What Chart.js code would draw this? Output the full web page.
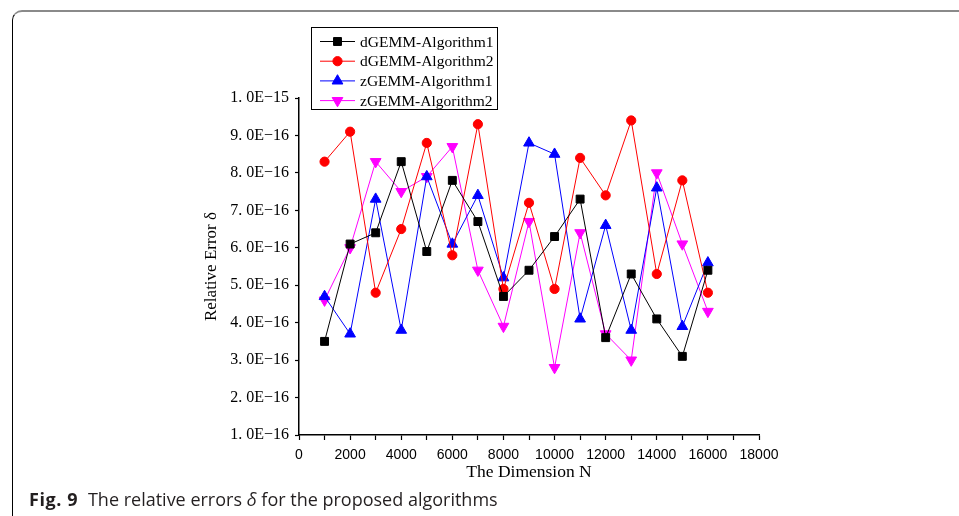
<!DOCTYPE html>
<html>
<head>
<meta charset="utf-8">
<script src="https://cdn.jsdelivr.net/npm/chart.js@4"></script>
<style>
    html, body { margin: 0; padding: 0; background: #fff; }
    body { width: 959px; height: 516px; position: relative; overflow: hidden; }
    #frame {
        position: absolute; left: 12px; top: 10px; width: 1000px; height: 600px;
        border-top: 2px solid #8a8a8a; border-left: 1.5px solid #000;
        border-top-left-radius: 10px;
    }
    #chart { position: absolute; left: 0; top: 0; }
    #caption {
        position: absolute; left: 29px; top: 487px;
        font-family: "Open Sans", sans-serif; font-size: 18px; color: #231f20;
        white-space: nowrap;
    }
    #caption b { margin-right: 5px; letter-spacing: 0.6px; }
</style>
</head>
<body>
<div id="frame"></div>
<canvas id="chart" width="959" height="516"></canvas>
<div id="caption"><b>Fig. 9</b> The relative errors <i>δ</i> for the proposed algorithms</div>

<script>
// values
const dimensions = [1000, 2000, 3000, 4000, 5000, 6000, 7000, 8000, 9000, 10000, 11000, 12000, 13000, 14000, 15000, 16000];

const dgemmAlg1 = [3.5e-16, 6.1e-16, 6.4e-16, 8.3e-16, 5.9e-16, 7.8e-16, 6.7e-16, 4.7e-16, 5.4e-16, 6.3e-16, 7.3e-16, 3.6e-16, 5.3e-16, 4.1e-16, 3.1e-16, 5.4e-16];
const dgemmAlg2 = [8.3e-16, 9.1e-16, 4.8e-16, 6.5e-16, 8.8e-16, 5.8e-16, 9.3e-16, 4.9e-16, 7.2e-16, 4.9e-16, 8.4e-16, 7.4e-16, 9.4e-16, 5.3e-16, 7.8e-16, 4.8e-16];
const zgemmAlg1 = [4.7e-16, 3.7e-16, 7.3e-16, 3.8e-16, 7.9e-16, 6.1e-16, 7.4e-16, 5.2e-16, 8.8e-16, 8.5e-16, 4.1e-16, 6.6e-16, 3.8e-16, 7.6e-16, 3.9e-16, 5.6e-16];
const zgemmAlg2 = [4.6e-16, 6.0e-16, 8.3e-16, 7.5e-16, 7.9e-16, 8.7e-16, 5.4e-16, 3.9e-16, 6.7e-16, 2.8e-16, 6.4e-16, 3.7e-16, 3.0e-16, 8.0e-16, 6.1e-16, 4.3e-16];

const yTickValues = [1e-16, 2e-16, 3e-16, 4e-16, 5e-16, 6e-16, 7e-16, 8e-16, 9e-16, 1e-15];
const yTickLabels = ['1. 0E\u221216', '2. 0E\u221216', '3. 0E\u221216', '4. 0E\u221216', '5. 0E\u221216',
                     '6. 0E\u221216', '7. 0E\u221216', '8. 0E\u221216', '9. 0E\u221216', '1. 0E\u221215'];

function toPoints(values) {
    return values.map((v, i) => ({ x: dimensions[i], y: v }));
}

function makeSeries(label, values, color, style, radius, rotation) {
    return {
        label: label,
        data: toPoints(values),
        borderColor: color,
        backgroundColor: color,
        borderWidth: 1,
        pointStyle: style,
        pointRadius: radius,
        pointRotation: rotation || 0,
        pointBorderWidth: 1,
        pointBorderColor: color,
        pointBackgroundColor: color,
        tension: 0
    };
}

// legend box drawn inside the plot, top-left
const boxLegend = {
    id: 'boxLegend',
    afterDraw(chart) {
        const ctx = chart.ctx;
        ctx.save();
        ctx.fillStyle = '#fff';
        ctx.fillRect(311, 27, 186, 82);
        ctx.strokeStyle = '#000';
        ctx.lineWidth = 1;
        ctx.strokeRect(311.5, 27.5, 186, 82);
        chart.data.datasets.forEach((ds, i) => {
            const y = 41.5 + i * 19.7;
            ctx.strokeStyle = ds.borderColor;
            ctx.fillStyle = ds.borderColor;
            ctx.lineWidth = 1;
            ctx.beginPath();
            ctx.moveTo(320, y);
            ctx.lineTo(355, y);
            ctx.stroke();
            Chart.helpers.drawPoint(ctx, {
                pointStyle: ds.pointStyle,
                radius: ds.pointRadius,
                rotation: ds.pointRotation,
                borderWidth: 1
            }, 337.5, y);
            ctx.fillStyle = '#000';
            ctx.font = '15.5px "Liberation Serif", serif';
            ctx.textBaseline = 'middle';
            ctx.fillText(ds.label, 360, y + 1);
        });
        ctx.restore();
    }
};

document.addEventListener('DOMContentLoaded', function() {
    const ctx = document.getElementById('chart').getContext('2d');
    new Chart(ctx, {
        type: 'line',
        data: {
            datasets: [
                makeSeries('dGEMM-Algorithm1', dgemmAlg1, '#000000', 'rect', 5.6),
                makeSeries('dGEMM-Algorithm2', dgemmAlg2, '#ff0000', 'circle', 4.6),
                makeSeries('zGEMM-Algorithm1', zgemmAlg1, '#0000ff', 'triangle', 6.2),
                makeSeries('zGEMM-Algorithm2', zgemmAlg2, '#ff00ff', 'triangle', 6.2, 180)
            ]
        },
        options: {
            responsive: false,
            animation: false,
            devicePixelRatio: 1,
            layout: { padding: { left: 198, top: 98, right: 200, bottom: 33 } },
            plugins: {
                legend: { display: false },
                tooltip: { enabled: false }
            },
            scales: {
                x: {
                    type: 'linear',
                    min: 0,
                    max: 18000,
                    afterFit: scale => { scale.height = 48; },
                    ticks: {
                        stepSize: 1000,
                        autoSkip: false,
                        maxRotation: 0,
                        padding: 7,
                        color: '#000',
                        font: { family: '"Liberation Sans", Arial, sans-serif', size: 14 },
                        callback: v => (v % 2000 === 0 ? String(v) : '')
                    },
                    grid: { drawOnChartArea: false, tickLength: 5, tickColor: '#000', tickWidth: 1.2 },
                    border: { color: '#000', width: 1.5 },
                    title: {
                        display: true,
                        text: 'The Dimension N',
                        color: '#000',
                        font: { family: '"Liberation Serif", serif', size: 17.5 },
                        padding: { top: 3, bottom: 0 }
                    }
                },
                y: {
                    type: 'linear',
                    min: 1e-16,
                    max: 1e-15,
                    afterFit: scale => { scale.width = 101; },
                    afterBuildTicks: scale => {
                        scale.ticks = yTickValues.map(v => ({ value: v }));
                    },
                    ticks: {
                        padding: 6,
                        color: '#000',
                        font: { family: '"Liberation Serif", serif', size: 16 },
                        callback: (v, i) => yTickLabels[i]
                    },
                    grid: { drawOnChartArea: false, tickLength: 4, tickColor: '#000', tickWidth: 1.2 },
                    border: { color: '#000', width: 1.5 },
                    title: {
                        display: true,
                        text: 'Relative Error δ',
                        color: '#000',
                        font: { family: '"Liberation Serif", serif', size: 17 },
                        padding: { top: 3, bottom: 0 }
                    }
                }
            }
        },
        plugins: [boxLegend]
    });
});
</script>
</body>
</html>
